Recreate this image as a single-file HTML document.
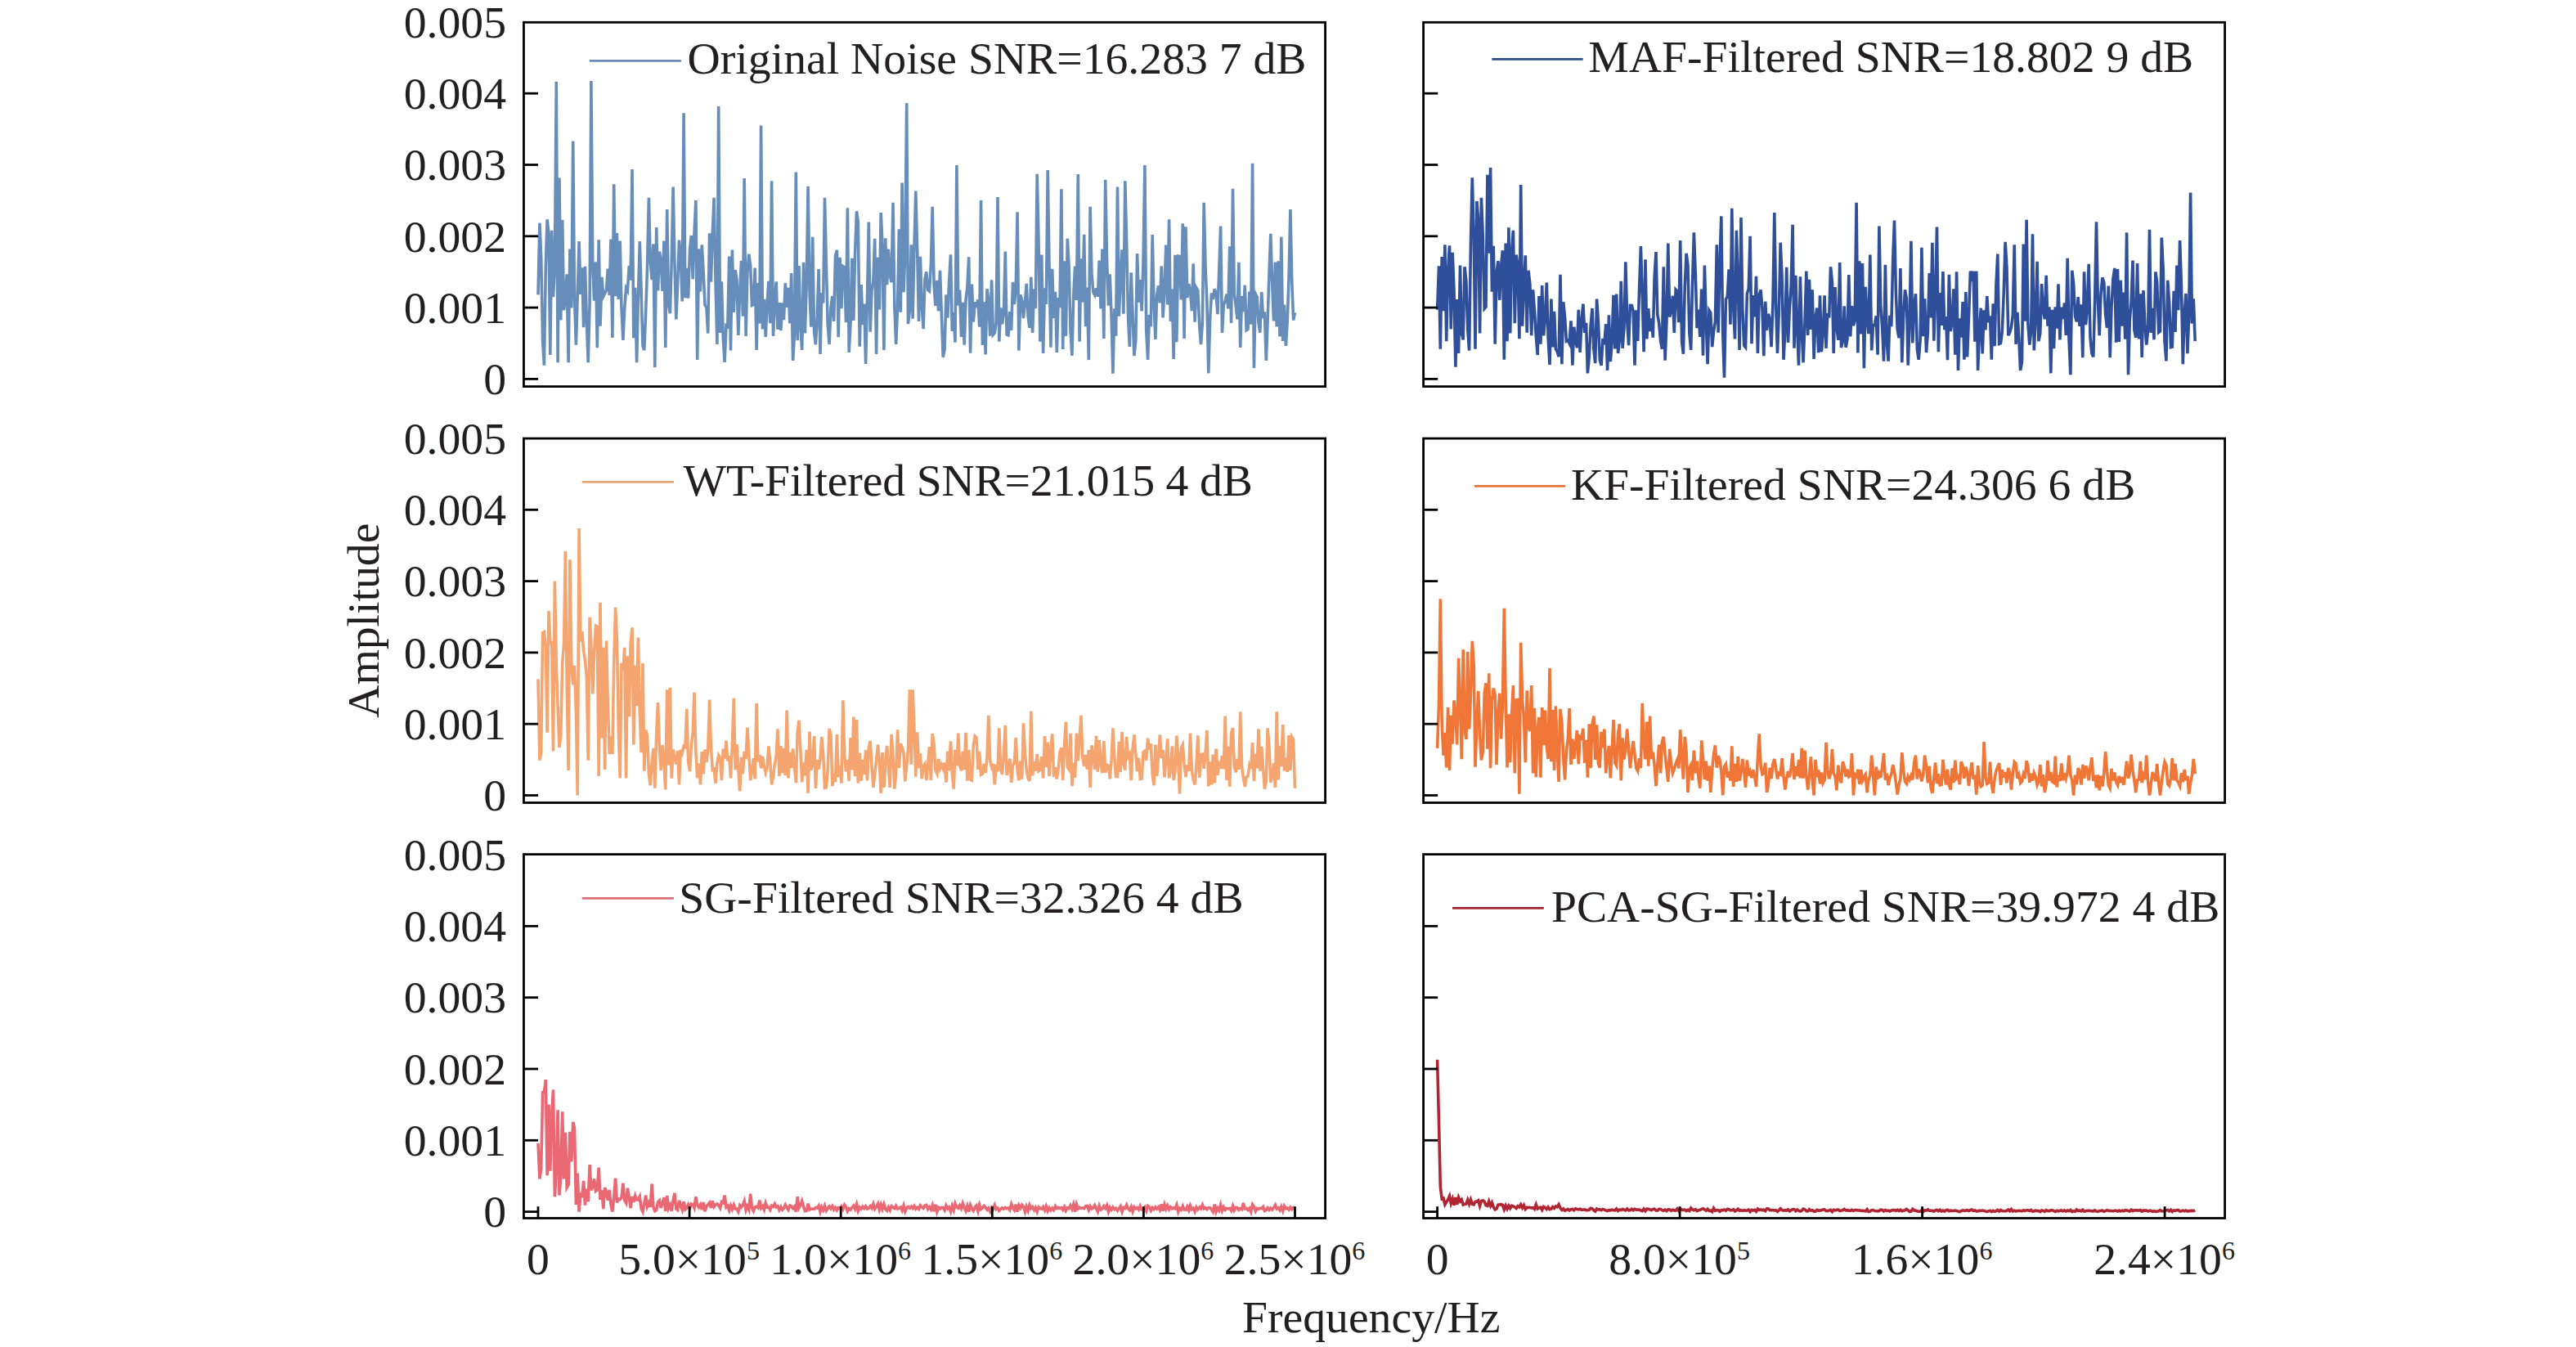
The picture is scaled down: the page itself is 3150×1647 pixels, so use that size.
<!DOCTYPE html><html><head><meta charset="utf-8"><style>html,body{margin:0;padding:0;background:#fff;}svg{display:block}text{font-family:"Liberation Serif",serif;fill:#231F20}</style></head><body>
<svg width="3150" height="1647" viewBox="0 0 3150 1647">
<rect width="3150" height="1647" fill="#fff"/>
<defs>
<clipPath id="c00"><rect x="640.5" y="27.3" width="980.1" height="445.3"/></clipPath>
<clipPath id="c01"><rect x="1740.6" y="27.3" width="980.0" height="445.3"/></clipPath>
<clipPath id="c10"><rect x="640.5" y="536.1" width="980.1" height="445.4"/></clipPath>
<clipPath id="c11"><rect x="1740.6" y="536.1" width="980.0" height="445.4"/></clipPath>
<clipPath id="c20"><rect x="640.5" y="1044.6" width="980.1" height="444.9"/></clipPath>
<clipPath id="c21"><rect x="1740.6" y="1044.6" width="980.0" height="444.9"/></clipPath>
</defs>
<polyline clip-path="url(#c00)" fill="none" stroke="#678EBA" stroke-width="3.6" stroke-linejoin="miter" stroke-miterlimit="4" points="658.0,360.4 659.9,272.7 661.7,314.5 663.6,415.5 665.4,446.6 667.3,326.5 669.1,268.2 671.0,285.2 672.8,434.1 674.7,281.7 676.5,363.2 678.4,326.5 680.3,99.7 682.1,443.3 684.0,217.6 685.8,391.4 687.7,269.0 689.5,379.3 691.4,365.2 693.2,335.4 695.1,443.3 696.9,304.5 698.8,376.4 700.7,172.4 702.5,361.9 704.4,421.8 706.2,362.3 708.1,295.1 709.9,360.0 711.8,327.2 713.6,400.3 715.5,325.7 717.4,392.6 719.2,443.3 721.1,370.5 722.9,99.0 724.8,326.7 726.6,367.7 728.5,320.4 730.3,425.2 732.2,293.3 734.0,398.8 735.9,338.9 737.8,362.3 739.6,358.6 741.5,354.7 743.3,328.5 745.2,360.9 747.0,292.6 748.9,412.9 750.7,225.2 752.6,362.2 754.4,285.0 756.3,366.0 758.2,294.5 760.0,376.5 761.9,416.0 763.7,377.6 765.6,352.5 767.4,355.5 769.3,324.8 771.1,342.6 773.0,207.1 774.8,413.3 776.7,351.9 778.6,443.3 780.4,364.3 782.3,295.1 784.1,356.2 786.0,423.0 787.8,428.1 789.7,380.9 791.5,328.1 793.4,241.8 795.2,319.0 797.1,342.0 799.0,298.4 800.8,449.3 802.7,278.0 804.5,355.5 806.4,307.5 808.2,318.5 810.1,356.0 811.9,294.5 813.8,425.0 815.7,256.0 817.5,371.4 819.4,383.1 821.2,321.3 823.1,228.5 824.9,318.5 826.8,390.4 828.6,348.0 830.5,293.6 832.3,314.4 834.2,368.5 836.1,138.3 837.9,364.3 839.8,327.8 841.6,364.7 843.5,305.8 845.3,288.0 847.2,341.2 849.0,285.3 850.9,245.1 852.7,440.0 854.6,304.3 856.5,356.5 858.3,299.4 860.2,333.8 862.0,372.8 863.9,376.0 865.7,407.7 867.6,285.4 869.4,344.8 871.3,285.2 873.1,241.8 875.0,342.9 876.9,421.0 878.7,130.1 880.6,406.9 882.4,344.2 884.3,413.8 886.1,443.0 888.0,398.0 889.8,399.1 891.7,313.5 893.5,428.5 895.4,305.5 897.3,381.9 899.1,330.1 901.0,342.0 902.8,409.9 904.7,355.8 906.5,318.9 908.4,386.6 910.2,218.0 912.1,411.0 913.9,334.0 915.8,310.7 917.7,325.6 919.5,373.4 921.4,372.2 923.2,327.6 925.1,428.0 926.9,346.1 928.8,395.6 930.6,153.5 932.5,402.4 934.4,365.9 936.2,412.0 938.1,371.4 939.9,343.9 941.8,395.1 943.6,221.3 945.5,411.0 947.3,371.3 949.2,344.4 951.0,402.8 952.9,370.0 954.8,404.1 956.6,370.3 958.5,391.2 960.3,346.2 962.2,375.9 964.0,351.8 965.9,395.4 967.7,334.1 969.6,441.0 971.4,409.6 973.3,210.4 975.2,416.2 977.0,325.1 978.9,399.7 980.7,428.0 982.6,320.9 984.4,407.5 986.3,345.4 988.1,227.9 990.0,356.6 991.8,399.8 993.7,289.9 995.6,406.0 997.4,421.4 999.3,387.4 1001.1,329.1 1003.0,433.0 1004.8,358.0 1006.7,370.5 1008.5,241.8 1010.4,324.1 1012.2,396.6 1014.1,421.0 1016.0,376.1 1017.8,362.1 1019.7,392.9 1021.5,313.1 1023.4,305.9 1025.2,412.1 1027.1,314.9 1028.9,377.3 1030.8,325.5 1032.7,326.8 1034.5,394.1 1036.4,254.3 1038.2,431.0 1040.1,393.0 1041.9,315.9 1043.8,391.9 1045.6,309.3 1047.5,258.3 1049.3,271.6 1051.2,423.7 1053.1,348.0 1054.9,397.0 1056.8,371.5 1058.6,445.0 1060.5,365.1 1062.3,271.5 1064.2,405.7 1066.0,355.9 1067.9,342.5 1069.7,291.7 1071.6,433.0 1073.5,314.7 1075.3,378.5 1077.2,260.0 1079.0,300.1 1080.9,428.0 1082.7,291.2 1084.6,348.2 1086.4,304.6 1088.3,336.7 1090.1,345.2 1092.0,247.7 1093.9,375.6 1095.7,421.0 1097.6,375.6 1099.4,280.2 1101.3,381.8 1103.1,223.6 1105.0,357.1 1106.8,311.5 1108.7,126.1 1110.5,396.0 1112.4,378.9 1114.3,299.2 1116.1,389.8 1118.0,300.4 1119.8,233.5 1121.7,308.0 1123.5,393.0 1125.4,313.8 1127.2,373.2 1129.1,402.1 1131.0,340.6 1132.8,332.4 1134.7,354.6 1136.5,356.1 1138.4,322.8 1140.2,252.7 1142.1,347.9 1143.9,373.8 1145.8,342.9 1147.6,380.3 1149.5,330.9 1151.4,385.7 1153.2,436.8 1155.1,427.3 1156.9,360.4 1158.8,388.7 1160.6,345.6 1162.5,311.3 1164.3,404.9 1166.2,382.0 1168.0,418.6 1169.9,202.1 1171.8,373.4 1173.6,354.5 1175.5,411.9 1177.3,369.7 1179.2,421.8 1181.0,367.1 1182.9,350.5 1184.7,314.3 1186.6,431.8 1188.4,347.6 1190.3,393.6 1192.2,369.2 1194.0,375.9 1195.9,366.4 1197.7,399.6 1199.6,245.1 1201.4,422.0 1203.3,369.2 1205.1,433.5 1207.0,353.3 1208.8,366.7 1210.7,410.8 1212.6,342.3 1214.4,409.2 1216.3,407.0 1218.1,394.3 1220.0,241.1 1221.8,417.6 1223.7,376.4 1225.5,396.2 1227.4,383.6 1229.3,307.6 1231.1,409.0 1233.0,409.8 1234.8,381.1 1236.7,404.0 1238.5,345.0 1240.4,372.0 1242.2,352.2 1244.1,259.3 1245.9,428.7 1247.8,360.4 1249.7,367.8 1251.5,389.0 1253.4,370.5 1255.2,346.9 1257.1,386.1 1258.9,400.7 1260.8,338.8 1262.6,407.0 1264.5,353.4 1266.3,377.0 1268.2,212.7 1270.1,296.9 1271.9,417.6 1273.8,311.5 1275.6,432.0 1277.5,352.2 1279.3,371.9 1281.2,208.1 1283.0,322.1 1284.9,424.6 1286.7,328.9 1288.6,388.9 1290.5,356.8 1292.3,431.0 1294.2,364.0 1296.0,376.0 1297.9,231.2 1299.7,427.0 1301.6,319.2 1303.4,410.9 1305.3,291.7 1307.1,325.1 1309.0,403.1 1310.9,435.0 1312.7,362.9 1314.6,325.5 1316.4,366.8 1318.3,213.1 1320.1,417.8 1322.0,316.3 1323.8,369.7 1325.7,286.7 1327.6,399.2 1329.4,351.5 1331.3,440.1 1333.1,252.7 1335.0,334.9 1336.8,357.3 1338.7,360.8 1340.5,352.3 1342.4,362.7 1344.2,318.5 1346.1,377.5 1348.0,304.5 1349.8,414.0 1351.7,219.7 1353.5,315.8 1355.4,373.7 1357.2,335.3 1359.1,386.6 1360.9,456.6 1362.8,377.3 1364.6,410.8 1366.5,228.6 1368.4,386.8 1370.2,340.2 1372.1,305.3 1373.9,383.8 1375.8,221.3 1377.6,293.3 1379.5,386.6 1381.3,424.0 1383.2,333.2 1385.0,382.4 1386.9,435.0 1388.8,417.3 1390.6,310.0 1392.5,369.7 1394.3,342.2 1396.2,380.3 1398.0,320.4 1399.9,202.1 1401.7,403.6 1403.6,440.0 1405.4,384.8 1407.3,399.3 1409.2,287.1 1411.0,369.5 1412.9,415.0 1414.7,360.7 1416.6,349.3 1418.4,370.3 1420.3,325.4 1422.1,388.5 1424.0,353.0 1425.8,299.5 1427.7,372.4 1429.6,268.2 1431.4,393.0 1433.3,353.5 1435.1,439.0 1437.0,311.7 1438.8,418.2 1440.7,313.1 1442.5,313.4 1444.4,366.4 1446.3,273.2 1448.1,414.0 1450.0,277.3 1451.8,364.0 1453.7,347.2 1455.5,355.8 1457.4,380.0 1459.2,322.4 1461.1,393.7 1462.9,351.9 1464.8,355.2 1466.7,397.9 1468.5,421.0 1470.4,394.1 1472.2,247.8 1474.1,327.7 1475.9,369.2 1477.8,456.4 1479.6,391.9 1481.5,358.4 1483.3,366.1 1485.2,353.3 1487.1,358.5 1488.9,384.1 1490.8,329.5 1492.6,276.5 1494.5,407.0 1496.3,372.7 1498.2,367.8 1500.0,359.7 1501.9,377.4 1503.7,301.3 1505.6,394.9 1507.5,230.9 1509.3,359.8 1511.2,373.6 1513.0,390.2 1514.9,320.9 1516.7,425.0 1518.6,362.0 1520.4,381.0 1522.3,348.7 1524.1,403.7 1526.0,402.5 1527.9,356.6 1529.7,396.6 1531.6,199.8 1533.4,450.0 1535.3,359.3 1537.1,362.7 1539.0,394.5 1540.8,406.7 1542.7,357.0 1544.6,388.9 1546.4,381.3 1548.3,441.0 1550.1,392.8 1552.0,334.1 1553.8,285.8 1555.7,347.6 1557.5,392.5 1559.4,320.5 1561.2,399.5 1563.1,319.3 1565.0,411.5 1566.8,289.7 1568.7,417.0 1570.5,372.5 1572.4,422.9 1574.2,393.7 1576.1,337.7 1577.9,256.0 1579.8,345.3 1581.6,391.7 1583.5,382.2"/>
<polyline clip-path="url(#c01)" fill="none" stroke="#2F4F9B" stroke-width="3.6" stroke-linejoin="miter" stroke-miterlimit="4" points="1757.6,378.7 1759.5,325.4 1761.3,426.7 1763.2,314.1 1765.0,380.1 1766.9,299.3 1768.7,417.1 1770.6,330.7 1772.5,300.4 1774.3,402.4 1776.2,308.9 1778.0,355.3 1779.9,448.6 1781.7,366.0 1783.6,432.0 1785.5,324.6 1787.3,407.7 1789.2,415.4 1791.0,326.3 1792.9,343.8 1794.7,402.1 1796.6,428.5 1798.5,294.9 1800.3,217.2 1802.2,291.0 1804.0,426.7 1805.9,246.0 1807.7,268.8 1809.6,407.5 1811.4,241.7 1813.3,288.6 1815.2,377.3 1817.0,375.2 1818.9,213.7 1820.7,309.8 1822.6,205.0 1824.4,356.7 1826.3,300.7 1828.2,420.6 1830.0,334.2 1831.9,319.1 1833.7,366.9 1835.6,324.6 1837.4,306.2 1839.3,439.8 1841.2,297.5 1843.0,417.2 1844.9,278.3 1846.7,407.5 1848.6,306.5 1850.4,281.8 1852.3,395.3 1854.2,311.5 1856.0,326.3 1857.9,414.3 1859.7,225.9 1861.6,398.8 1863.4,349.2 1865.3,312.4 1867.2,406.7 1869.0,330.7 1870.9,347.6 1872.7,410.2 1874.6,354.3 1876.4,379.4 1878.3,410.8 1880.2,434.2 1882.0,362.1 1883.9,420.6 1885.7,349.1 1887.6,410.4 1889.4,390.5 1891.3,345.5 1893.1,412.8 1895.0,445.9 1896.9,365.6 1898.7,424.5 1900.6,380.7 1902.4,426.8 1904.3,430.2 1906.1,436.3 1908.0,335.9 1909.9,445.1 1911.7,369.3 1913.6,388.3 1915.4,417.2 1917.3,416.2 1919.1,419.8 1921.0,392.4 1922.9,446.8 1924.7,399.8 1926.6,416.7 1928.4,425.1 1930.3,378.7 1932.1,431.0 1934.0,392.1 1935.9,371.7 1937.7,406.9 1939.6,394.9 1941.4,456.4 1943.3,436.4 1945.1,398.6 1947.0,377.0 1948.9,426.7 1950.7,444.1 1952.6,365.6 1954.4,393.2 1956.3,440.1 1958.1,446.8 1960.0,414.0 1961.9,421.0 1963.7,396.2 1965.6,452.9 1967.4,385.4 1969.3,442.0 1971.1,418.5 1973.0,360.8 1974.9,426.5 1976.7,359.5 1978.6,432.0 1980.4,415.3 1982.3,343.8 1984.1,425.9 1986.0,400.7 1987.8,320.2 1989.7,392.1 1991.6,422.2 1993.4,373.4 1995.3,373.5 1997.1,380.1 1999.0,446.8 2000.8,379.4 2002.7,417.0 2004.6,352.0 2006.4,301.0 2008.3,362.4 2010.1,430.2 2012.0,317.4 2013.8,414.4 2015.7,377.0 2017.6,405.0 2019.4,389.3 2021.3,412.8 2023.1,339.4 2025.0,308.0 2026.8,384.6 2028.7,395.3 2030.6,417.1 2032.4,426.7 2034.3,326.3 2036.1,440.7 2038.0,391.6 2039.8,297.5 2041.7,387.6 2043.6,378.6 2045.4,361.8 2047.3,406.9 2049.1,354.2 2051.0,356.5 2052.8,394.1 2054.7,294.0 2056.6,417.7 2058.4,432.8 2060.3,348.5 2062.1,309.8 2064.0,324.6 2065.8,406.7 2067.7,427.9 2069.5,348.7 2071.4,284.4 2073.3,336.1 2075.1,401.2 2077.0,378.5 2078.8,411.9 2080.7,353.6 2082.5,434.8 2084.4,324.6 2086.3,393.7 2088.1,445.1 2090.0,379.6 2091.8,382.6 2093.7,424.1 2095.5,405.2 2097.4,393.6 2099.3,299.3 2101.1,406.8 2103.0,322.2 2104.8,264.4 2106.7,406.9 2108.5,461.7 2110.4,365.9 2112.3,362.8 2114.1,329.4 2116.0,396.8 2117.8,254.8 2119.7,376.7 2121.5,414.5 2123.4,281.8 2125.3,348.5 2127.1,427.9 2129.0,266.1 2130.8,376.5 2132.7,422.4 2134.5,424.7 2136.4,359.0 2138.3,352.7 2140.1,288.8 2142.0,420.3 2143.8,361.0 2145.7,387.4 2147.5,337.8 2149.4,432.0 2151.2,361.2 2153.1,354.3 2155.0,378.7 2156.8,435.3 2158.7,368.7 2160.5,403.9 2162.4,383.8 2164.2,390.9 2166.1,424.1 2168.0,367.8 2169.8,260.0 2171.7,376.3 2173.5,431.9 2175.4,378.6 2177.2,296.7 2179.1,339.6 2181.0,439.8 2182.8,405.4 2184.7,326.7 2186.5,418.8 2188.4,376.6 2190.2,349.2 2192.1,274.8 2194.0,425.8 2195.8,336.8 2197.7,402.8 2199.5,446.8 2201.4,338.4 2203.2,406.1 2205.1,443.3 2207.0,395.0 2208.8,331.6 2210.7,409.9 2212.5,341.7 2214.4,403.0 2216.2,354.3 2218.1,439.0 2220.0,389.2 2221.8,376.5 2223.7,431.1 2225.5,361.3 2227.4,430.2 2229.2,407.8 2231.1,361.2 2233.0,425.9 2234.8,383.1 2236.7,388.5 2238.5,326.3 2240.4,344.5 2242.2,431.9 2244.1,351.0 2245.9,400.3 2247.8,415.7 2249.7,321.0 2251.5,425.0 2253.4,417.8 2255.2,374.3 2257.1,424.8 2258.9,415.4 2260.8,336.0 2262.7,411.4 2264.5,374.0 2266.4,398.2 2268.2,391.1 2270.1,247.8 2271.9,431.5 2273.8,319.2 2275.7,408.4 2277.5,322.0 2279.4,450.3 2281.2,350.9 2283.1,389.6 2284.9,408.2 2286.8,311.5 2288.7,428.5 2290.5,397.4 2292.4,397.6 2294.2,386.3 2296.1,433.7 2297.9,276.6 2299.8,373.9 2301.7,400.7 2303.5,441.6 2305.4,323.7 2307.2,419.4 2309.1,441.6 2310.9,385.9 2312.8,399.2 2314.7,318.4 2316.5,269.6 2318.4,358.8 2320.2,402.6 2322.1,413.3 2323.9,328.0 2325.8,443.3 2327.6,387.7 2329.5,354.3 2331.4,365.5 2333.2,446.8 2335.1,395.2 2336.9,294.9 2338.8,419.4 2340.6,375.3 2342.5,359.3 2344.4,427.9 2346.2,439.8 2348.1,416.1 2349.9,302.8 2351.8,411.3 2353.6,365.3 2355.5,431.0 2357.4,406.1 2359.2,334.1 2361.1,388.5 2362.9,296.7 2364.8,416.6 2366.6,366.1 2368.5,277.5 2370.4,430.2 2372.2,358.1 2374.1,398.0 2375.9,332.1 2377.8,403.1 2379.6,387.0 2381.5,440.1 2383.4,335.9 2385.2,405.0 2387.1,394.4 2388.9,353.4 2390.8,433.8 2392.6,332.4 2394.5,452.9 2396.4,389.2 2398.2,412.6 2400.1,369.1 2401.9,439.8 2403.8,357.0 2405.6,436.5 2407.5,386.6 2409.4,331.6 2411.2,338.2 2413.1,331.7 2414.9,417.8 2416.8,331.6 2418.6,452.9 2420.5,404.7 2422.3,376.7 2424.2,432.4 2426.1,379.2 2427.9,403.5 2429.8,362.1 2431.6,394.1 2433.5,386.4 2435.3,439.8 2437.2,371.3 2439.1,423.3 2440.9,348.2 2442.8,310.6 2444.6,420.5 2446.5,419.8 2448.3,405.5 2450.2,359.5 2452.1,295.8 2453.9,325.7 2455.8,410.3 2457.6,406.7 2459.5,400.0 2461.3,385.1 2463.2,299.3 2465.1,420.9 2466.9,381.8 2468.8,413.9 2470.6,452.9 2472.5,442.3 2474.3,298.4 2476.2,392.7 2478.1,268.7 2479.9,396.5 2481.8,421.5 2483.6,406.2 2485.5,286.2 2487.3,428.5 2489.2,390.1 2491.1,319.9 2492.9,417.2 2494.8,407.5 2496.6,347.0 2498.5,378.7 2500.3,390.1 2502.2,336.8 2504.0,398.8 2505.9,375.4 2507.8,456.4 2509.6,378.8 2511.5,426.2 2513.3,375.2 2515.2,401.6 2517.0,347.4 2518.9,415.4 2520.8,375.6 2522.6,390.0 2524.5,370.4 2526.3,410.0 2528.2,315.9 2530.0,414.9 2531.9,458.2 2533.8,330.8 2535.6,346.4 2537.5,386.2 2539.3,393.4 2541.2,363.2 2543.0,398.8 2544.9,372.3 2546.8,437.2 2548.6,332.4 2550.5,397.1 2552.3,376.8 2554.2,322.8 2556.0,412.7 2557.9,432.0 2559.8,436.4 2561.6,368.7 2563.5,271.3 2565.3,366.2 2567.2,410.1 2569.0,359.3 2570.9,339.4 2572.8,345.6 2574.6,383.9 2576.5,400.8 2578.3,349.5 2580.2,437.2 2582.0,375.6 2583.9,341.2 2585.8,327.9 2587.6,418.6 2589.5,329.1 2591.3,418.0 2593.2,342.9 2595.0,398.6 2596.9,357.6 2598.7,414.6 2600.6,284.4 2602.5,458.2 2604.3,391.6 2606.2,367.6 2608.0,318.5 2609.9,403.6 2611.7,412.8 2613.6,322.0 2615.5,414.4 2617.3,359.2 2619.2,437.0 2621.0,355.1 2622.9,396.9 2624.7,421.5 2626.6,404.2 2628.5,280.9 2630.3,407.0 2632.2,376.9 2634.0,415.3 2635.9,332.4 2637.7,345.5 2639.6,406.4 2641.5,405.0 2643.3,290.5 2645.2,329.5 2647.0,417.1 2648.9,441.4 2650.7,342.9 2652.6,369.1 2654.5,424.6 2656.3,424.1 2658.2,355.9 2660.0,405.9 2661.9,324.6 2663.7,379.1 2665.6,294.0 2667.5,351.3 2669.3,445.1 2671.2,383.7 2673.0,359.0 2674.9,432.2 2676.7,386.9 2678.6,235.5 2680.4,395.6 2682.3,365.2 2684.2,417.1"/>
<polyline clip-path="url(#c10)" fill="none" stroke="#F5A56F" stroke-width="3.6" stroke-linejoin="miter" stroke-miterlimit="4" points="658.0,830.2 659.9,929.7 661.7,920.1 663.6,773.5 665.4,772.6 667.3,791.8 669.1,895.7 671.0,747.1 672.8,785.7 674.7,785.7 676.5,918.4 678.4,710.6 680.3,814.1 682.1,863.5 684.0,914.0 685.8,899.0 687.7,810.4 689.5,788.3 691.4,673.9 693.2,835.1 695.1,941.9 696.9,684.4 698.8,812.8 700.7,837.3 702.5,813.8 704.4,869.2 706.2,972.5 708.1,646.0 709.9,784.4 711.8,772.1 713.6,795.3 715.5,808.1 717.4,828.1 719.2,929.7 721.1,754.7 722.9,789.2 724.8,848.5 726.6,798.0 728.5,765.2 730.3,766.1 732.2,948.9 734.0,736.8 735.9,902.4 737.8,791.8 739.6,941.1 741.5,783.4 743.3,859.5 745.2,922.0 747.0,900.0 748.9,921.9 750.7,810.9 752.6,742.9 754.4,781.2 756.3,891.4 758.2,951.5 760.0,811.0 761.9,819.7 763.7,791.8 765.6,951.5 767.4,802.3 769.3,876.1 771.1,788.4 773.0,767.3 774.8,910.4 776.7,813.7 778.6,863.3 780.4,779.6 782.3,872.4 784.1,920.1 786.0,810.9 787.8,942.8 789.7,892.5 791.5,899.2 793.4,945.9 795.2,960.3 797.1,932.7 799.0,914.9 800.8,963.8 802.7,897.6 804.5,859.0 806.4,914.4 808.2,941.9 810.1,910.9 811.9,932.5 813.8,965.5 815.7,843.3 817.5,935.8 819.4,840.7 821.2,951.7 823.1,916.6 824.9,927.4 826.8,934.3 828.6,917.9 830.5,959.4 832.3,916.9 834.2,921.0 836.1,912.3 837.9,913.4 839.8,866.9 841.6,931.5 843.5,943.1 845.3,913.3 847.2,895.7 849.0,846.8 850.9,920.5 852.7,951.3 854.6,933.6 856.5,959.4 858.3,919.1 860.2,946.4 862.0,916.5 863.9,932.1 865.7,917.0 867.6,855.5 869.4,912.6 871.3,941.4 873.1,940.4 875.0,957.7 876.9,933.2 878.7,923.4 880.6,926.7 882.4,954.2 884.3,915.6 886.1,927.4 888.0,905.7 889.8,930.4 891.7,924.2 893.5,951.5 895.4,911.0 897.3,853.8 899.1,941.3 901.0,910.0 902.8,939.5 904.7,967.3 906.5,925.9 908.4,946.4 910.2,918.9 912.1,928.2 913.9,889.6 915.8,922.0 917.7,954.2 919.5,942.9 921.4,927.1 923.2,952.4 925.1,859.9 926.9,931.4 928.8,923.0 930.6,939.4 932.5,925.0 934.4,937.4 936.2,944.8 938.1,938.1 939.9,912.4 941.8,932.5 943.6,959.4 945.5,949.8 947.3,934.4 949.2,924.9 951.0,891.3 952.9,948.9 954.8,912.2 956.6,945.1 958.5,914.8 960.3,948.1 962.2,868.6 964.0,951.5 965.9,919.8 967.7,939.2 969.6,915.4 971.4,936.0 973.3,957.1 975.2,895.2 977.0,880.8 978.9,918.1 980.7,956.3 982.6,932.5 984.4,948.4 986.3,916.7 988.1,969.9 990.0,894.5 991.8,941.4 993.7,934.9 995.6,900.0 997.4,963.8 999.3,929.1 1001.1,940.5 1003.0,928.2 1004.8,900.9 1006.7,922.7 1008.5,963.3 1010.4,962.9 1012.2,941.2 1014.1,891.0 1016.0,898.3 1017.8,961.2 1019.7,945.4 1021.5,956.2 1023.4,898.1 1025.2,950.1 1027.1,936.0 1028.9,957.7 1030.8,856.4 1032.7,924.5 1034.5,943.3 1036.4,929.4 1038.2,954.8 1040.1,902.0 1041.9,941.4 1043.8,876.5 1045.6,949.1 1047.5,880.0 1049.3,957.7 1051.2,920.8 1053.1,954.6 1054.9,929.0 1056.8,946.8 1058.6,917.1 1060.5,954.4 1062.3,913.9 1064.2,906.2 1066.0,936.5 1067.9,962.9 1069.7,946.6 1071.6,929.7 1073.5,910.5 1075.3,930.1 1077.2,969.9 1079.0,920.1 1080.9,962.9 1082.7,935.5 1084.6,912.0 1086.4,937.6 1088.3,962.9 1090.1,897.8 1092.0,925.2 1093.9,964.6 1095.7,942.7 1097.6,892.3 1099.4,938.8 1101.3,909.2 1103.1,914.0 1105.0,920.8 1106.8,955.4 1108.7,936.6 1110.5,916.4 1112.4,843.3 1114.3,934.7 1116.1,843.3 1118.0,892.2 1119.8,949.8 1121.7,895.3 1123.5,939.3 1125.4,921.4 1127.2,952.2 1129.1,937.2 1131.0,934.1 1132.8,954.0 1134.7,934.9 1136.5,913.1 1138.4,954.2 1140.2,897.0 1142.1,909.8 1143.9,941.4 1145.8,945.8 1147.6,928.0 1149.5,939.8 1151.4,934.8 1153.2,939.6 1155.1,932.7 1156.9,956.7 1158.8,918.6 1160.6,942.2 1162.5,906.3 1164.3,945.2 1166.2,964.6 1168.0,916.9 1169.9,936.4 1171.8,896.5 1173.6,935.5 1175.5,942.3 1177.3,918.9 1179.2,941.0 1181.0,895.7 1182.9,954.6 1184.7,917.0 1186.6,953.4 1188.4,954.2 1190.3,911.4 1192.2,900.0 1194.0,901.7 1195.9,940.8 1197.7,918.9 1199.6,947.2 1201.4,946.2 1203.3,934.0 1205.1,944.9 1207.0,925.9 1208.8,874.7 1210.7,930.8 1212.6,938.0 1214.4,934.0 1216.3,959.4 1218.1,934.6 1220.0,943.4 1221.8,890.4 1223.7,940.5 1225.5,946.9 1227.4,924.5 1229.3,886.9 1231.1,947.8 1233.0,940.5 1234.8,927.6 1236.7,956.8 1238.5,935.9 1240.4,932.1 1242.2,901.8 1244.1,942.7 1245.9,954.2 1247.8,930.6 1249.7,952.6 1251.5,884.3 1253.4,920.8 1255.2,941.4 1257.1,951.3 1258.9,955.0 1260.8,869.5 1262.6,948.2 1264.5,931.1 1266.3,942.6 1268.2,922.2 1270.1,942.8 1271.9,941.5 1273.8,925.3 1275.6,951.5 1277.5,900.0 1279.3,938.1 1281.2,907.6 1283.0,949.0 1284.9,917.5 1286.7,897.4 1288.6,949.8 1290.5,938.3 1292.3,952.4 1294.2,939.6 1296.0,919.3 1297.9,914.4 1299.7,954.2 1301.6,910.5 1303.4,882.6 1305.3,938.0 1307.1,940.6 1309.0,896.9 1310.9,961.2 1312.7,932.8 1314.6,950.7 1316.4,896.6 1318.3,930.4 1320.1,902.2 1322.0,874.7 1323.8,926.0 1325.7,936.9 1327.6,923.1 1329.4,940.6 1331.3,917.0 1333.1,962.9 1335.0,911.3 1336.8,922.2 1338.7,940.9 1340.5,899.8 1342.4,943.6 1344.2,905.1 1346.1,935.2 1348.0,945.1 1349.8,906.2 1351.7,944.7 1353.5,935.3 1355.4,936.1 1357.2,952.4 1359.1,929.2 1360.9,890.4 1362.8,927.0 1364.6,949.5 1366.5,949.6 1368.4,906.8 1370.2,943.9 1372.1,894.8 1373.9,933.2 1375.8,941.7 1377.6,901.0 1379.5,925.1 1381.3,922.0 1383.2,954.2 1385.0,916.4 1386.9,898.4 1388.8,921.9 1390.6,943.2 1392.5,926.8 1394.3,952.5 1396.2,952.1 1398.0,920.0 1399.9,918.4 1401.7,929.6 1403.6,902.7 1405.4,916.5 1407.3,909.3 1409.2,946.1 1411.0,960.3 1412.9,910.6 1414.7,948.9 1416.6,924.7 1418.4,898.3 1420.3,927.0 1422.1,916.8 1424.0,950.2 1425.8,927.8 1427.7,903.4 1429.6,951.5 1431.4,942.4 1433.3,912.3 1435.1,954.0 1437.0,943.3 1438.8,899.5 1440.7,925.6 1442.5,970.8 1444.4,914.2 1446.3,910.5 1448.1,935.3 1450.0,950.1 1451.8,935.4 1453.7,942.7 1455.5,896.5 1457.4,942.2 1459.2,953.5 1461.1,959.4 1462.9,937.1 1464.8,899.2 1466.7,950.6 1468.5,922.6 1470.4,922.2 1472.2,939.9 1474.1,921.1 1475.9,893.1 1477.8,961.5 1479.6,931.4 1481.5,959.4 1483.3,922.5 1485.2,957.5 1487.1,915.5 1488.9,947.7 1490.8,930.6 1492.6,939.8 1494.5,924.0 1496.3,940.3 1498.2,875.6 1500.0,954.0 1501.9,912.5 1503.7,962.0 1505.6,896.6 1507.5,890.4 1509.3,936.9 1511.2,944.2 1513.0,927.9 1514.9,940.9 1516.7,870.4 1518.6,937.7 1520.4,951.1 1522.3,962.0 1524.1,950.2 1526.0,949.0 1527.9,935.6 1529.7,939.9 1531.6,908.0 1533.4,955.0 1535.3,921.8 1537.1,939.3 1539.0,891.3 1540.8,942.8 1542.7,913.0 1544.6,939.6 1546.4,964.6 1548.3,955.3 1550.1,890.4 1552.0,913.0 1553.8,956.8 1555.7,949.7 1557.5,933.0 1559.4,962.9 1561.2,870.4 1563.1,953.4 1565.0,911.8 1566.8,937.1 1568.7,886.1 1570.5,942.4 1572.4,926.7 1574.2,943.8 1576.1,899.2 1577.9,942.2 1579.8,901.2 1581.6,904.4 1583.5,963.8"/>
<polyline clip-path="url(#c11)" fill="none" stroke="#EF7637" stroke-width="3.6" stroke-linejoin="miter" stroke-miterlimit="4" points="1757.6,914.9 1759.5,860.0 1761.3,732.4 1763.2,884.9 1765.0,923.6 1766.9,895.8 1768.7,938.5 1770.6,865.1 1772.5,941.9 1774.3,874.7 1776.2,909.6 1778.0,856.4 1779.9,874.7 1781.7,910.5 1783.6,804.9 1785.5,861.2 1787.3,928.2 1789.2,794.4 1791.0,891.3 1792.9,903.9 1794.7,797.0 1796.6,891.3 1798.5,849.3 1800.3,783.9 1802.2,812.7 1804.0,937.6 1805.9,884.5 1807.7,845.0 1809.6,896.5 1811.4,929.4 1813.3,919.2 1815.2,847.7 1817.0,835.2 1818.9,915.8 1820.7,823.2 1822.6,939.3 1824.4,856.3 1826.3,841.5 1828.2,849.4 1830.0,935.0 1831.9,873.1 1833.7,847.7 1835.6,903.4 1837.4,862.6 1839.3,743.8 1841.2,859.1 1843.0,938.5 1844.9,873.2 1846.7,932.3 1848.6,872.8 1850.4,838.1 1852.3,945.4 1854.2,856.0 1856.0,855.5 1857.9,970.8 1859.7,785.7 1861.6,855.9 1863.4,877.2 1865.3,932.3 1867.2,844.2 1869.0,888.4 1870.9,894.0 1872.7,838.1 1874.6,945.4 1876.4,865.7 1878.3,950.2 1880.2,891.0 1882.0,877.1 1883.9,950.7 1885.7,865.1 1887.6,911.2 1889.4,868.5 1891.3,912.5 1893.1,928.0 1895.0,817.1 1896.9,931.1 1898.7,868.1 1900.6,941.9 1902.4,863.4 1904.3,921.0 1906.1,955.9 1908.0,866.9 1909.9,884.6 1911.7,925.9 1913.6,953.3 1915.4,918.8 1917.3,903.6 1919.1,866.0 1921.0,935.0 1922.9,903.5 1924.7,928.0 1926.6,910.3 1928.4,893.0 1930.3,934.1 1932.1,900.9 1934.0,902.5 1935.9,890.8 1937.7,933.0 1939.6,904.7 1941.4,950.7 1943.3,885.2 1945.1,939.3 1947.0,886.4 1948.9,875.6 1950.7,928.9 1952.6,886.3 1954.4,933.2 1956.3,938.8 1958.1,894.8 1960.0,914.2 1961.9,891.5 1963.7,945.4 1965.6,925.5 1967.4,911.9 1969.3,951.5 1971.1,918.8 1973.0,880.0 1974.9,933.2 1976.7,936.2 1978.6,896.5 1980.4,885.4 1982.3,954.2 1984.1,902.4 1986.0,928.5 1987.8,914.6 1989.7,891.3 1991.6,916.9 1993.4,939.3 1995.3,921.2 1997.1,906.2 1999.0,922.6 2000.8,939.1 2002.7,942.8 2004.6,927.2 2006.4,939.2 2008.3,859.9 2010.1,909.9 2012.0,928.2 2013.8,882.6 2015.7,936.8 2017.6,875.6 2019.4,928.0 2021.3,919.7 2023.1,935.8 2025.0,961.2 2026.8,934.5 2028.7,910.5 2030.6,945.4 2032.4,907.0 2034.3,900.9 2036.1,922.4 2038.0,940.1 2039.8,955.9 2041.7,915.8 2043.6,935.1 2045.4,945.4 2047.3,940.3 2049.1,933.6 2051.0,928.9 2052.8,939.4 2054.7,892.2 2056.6,924.9 2058.4,952.7 2060.3,900.9 2062.1,919.0 2064.0,969.0 2065.8,939.1 2067.7,935.4 2069.5,954.2 2071.4,917.5 2073.3,945.4 2075.1,930.3 2077.0,951.4 2078.8,963.8 2080.7,905.3 2082.5,927.3 2084.4,953.1 2086.3,930.6 2088.1,954.7 2090.0,936.6 2091.8,969.0 2093.7,940.2 2095.5,923.1 2097.4,911.4 2099.3,938.7 2101.1,924.1 2103.0,929.1 2104.8,943.1 2106.7,972.5 2108.5,937.2 2110.4,934.2 2112.3,950.6 2114.1,943.5 2116.0,954.4 2117.8,912.3 2119.7,962.0 2121.5,933.9 2123.4,955.8 2125.3,925.2 2127.1,954.7 2129.0,944.9 2130.8,928.0 2132.7,943.0 2134.5,962.9 2136.4,929.4 2138.3,948.4 2140.1,943.5 2142.0,951.1 2143.8,941.4 2145.7,949.7 2147.5,962.0 2149.4,926.8 2151.2,897.4 2153.1,936.9 2155.0,946.7 2156.8,945.4 2158.7,932.7 2160.5,969.0 2162.4,958.8 2164.2,938.6 2166.1,952.1 2168.0,933.7 2169.8,928.0 2171.7,940.3 2173.5,952.6 2175.4,945.6 2177.2,946.9 2179.1,927.1 2181.0,949.0 2182.8,965.5 2184.7,952.4 2186.5,943.0 2188.4,950.3 2190.2,938.4 2192.1,921.0 2194.0,953.0 2195.8,937.1 2197.7,949.0 2199.5,928.8 2201.4,951.3 2203.2,914.9 2205.1,951.6 2207.0,917.5 2208.8,947.7 2210.7,965.5 2212.5,948.4 2214.4,925.4 2216.2,952.9 2218.1,972.5 2220.0,929.0 2221.8,950.2 2223.7,941.4 2225.5,958.4 2227.4,944.5 2229.2,957.4 2231.1,953.8 2233.0,907.9 2234.8,941.7 2236.7,952.2 2238.5,946.0 2240.4,915.8 2242.2,945.6 2244.1,949.1 2245.9,966.4 2247.8,935.7 2249.7,951.3 2251.5,957.3 2253.4,931.2 2255.2,937.7 2257.1,949.8 2258.9,940.7 2260.8,949.9 2262.7,948.4 2264.5,921.0 2266.4,972.5 2268.2,946.9 2270.1,949.1 2271.9,940.8 2273.8,958.7 2275.7,941.2 2277.5,954.3 2279.4,949.7 2281.2,946.9 2283.1,969.0 2284.9,953.8 2286.8,948.2 2288.7,923.6 2290.5,947.8 2292.4,972.5 2294.2,937.5 2296.1,952.5 2297.9,945.7 2299.8,950.8 2301.7,937.6 2303.5,921.0 2305.4,953.7 2307.2,945.8 2309.1,960.1 2310.9,951.4 2312.8,946.8 2314.7,935.1 2316.5,943.5 2318.4,957.0 2320.2,971.6 2322.1,959.2 2323.9,952.2 2325.8,920.1 2327.6,941.7 2329.5,955.5 2331.4,958.1 2333.2,949.4 2335.1,953.5 2336.9,948.3 2338.8,953.4 2340.6,932.6 2342.5,923.6 2344.4,952.6 2346.2,940.5 2348.1,946.4 2349.9,955.4 2351.8,946.5 2353.6,923.6 2355.5,936.5 2357.4,957.3 2359.2,936.9 2361.1,963.1 2362.9,969.9 2364.8,950.6 2366.6,932.5 2368.5,958.1 2370.4,946.3 2372.2,960.1 2374.1,959.6 2375.9,928.9 2377.8,948.6 2379.6,959.5 2381.5,940.8 2383.4,959.8 2385.2,965.5 2387.1,939.3 2388.9,957.0 2390.8,929.7 2392.6,951.4 2394.5,949.3 2396.4,959.2 2398.2,931.3 2400.1,937.1 2401.9,951.7 2403.8,937.7 2405.6,944.8 2407.5,960.8 2409.4,944.9 2411.2,932.3 2413.1,952.7 2414.9,947.7 2416.8,971.6 2418.6,936.1 2420.5,956.9 2422.3,961.7 2424.2,960.2 2426.1,907.0 2427.9,950.1 2429.8,958.4 2431.6,957.1 2433.5,931.7 2435.3,958.8 2437.2,969.9 2439.1,952.4 2440.9,942.5 2442.8,937.6 2444.6,933.1 2446.5,959.9 2448.3,941.2 2450.2,950.5 2452.1,944.0 2453.9,957.4 2455.8,938.9 2457.6,945.4 2459.5,965.5 2461.3,945.6 2463.2,931.6 2465.1,933.5 2466.9,951.9 2468.8,947.3 2470.6,957.4 2472.5,955.3 2474.3,946.6 2476.2,951.9 2478.1,930.1 2479.9,936.7 2481.8,956.8 2483.6,945.8 2485.5,954.5 2487.3,945.0 2489.2,949.8 2491.1,959.9 2492.9,955.7 2494.8,935.0 2496.6,961.5 2498.5,947.1 2500.3,969.0 2502.2,958.8 2504.0,929.9 2505.9,954.3 2507.8,944.1 2509.6,955.8 2511.5,957.0 2513.3,924.5 2515.2,962.3 2517.0,947.8 2518.9,955.0 2520.8,933.4 2522.6,954.4 2524.5,945.5 2526.3,951.8 2528.2,943.7 2530.0,923.6 2531.9,947.7 2533.8,954.5 2535.6,972.5 2537.5,947.6 2539.3,959.1 2541.2,939.1 2543.0,943.4 2544.9,959.5 2546.8,935.0 2548.6,951.8 2550.5,936.5 2552.3,941.0 2554.2,954.3 2556.0,938.5 2557.9,926.2 2559.8,954.9 2561.6,947.8 2563.5,963.3 2565.3,947.4 2567.2,966.4 2569.0,948.8 2570.9,961.5 2572.8,944.9 2574.6,919.2 2576.5,943.5 2578.3,960.2 2580.2,963.8 2582.0,939.8 2583.9,954.5 2585.8,944.4 2587.6,956.1 2589.5,959.9 2591.3,948.9 2593.2,957.0 2595.0,950.2 2596.9,959.8 2598.7,947.5 2600.6,930.6 2602.5,951.8 2604.3,944.6 2606.2,922.7 2608.0,942.2 2609.9,954.2 2611.7,969.0 2613.6,953.9 2615.5,953.2 2617.3,931.0 2619.2,957.1 2621.0,948.0 2622.9,953.0 2624.7,923.6 2626.6,955.8 2628.5,972.5 2630.3,958.6 2632.2,944.0 2634.0,949.4 2635.9,955.2 2637.7,933.9 2639.6,957.8 2641.5,972.5 2643.3,956.4 2645.2,942.3 2647.0,931.5 2648.9,935.3 2650.7,958.5 2652.6,960.8 2654.5,951.5 2656.3,927.1 2658.2,954.4 2660.0,933.9 2661.9,953.9 2663.7,956.7 2665.6,961.1 2667.5,945.2 2669.3,956.3 2671.2,940.9 2673.0,954.0 2674.9,948.8 2676.7,970.8 2678.6,957.2 2680.4,948.1 2682.3,928.0 2684.2,946.3"/>
<polyline clip-path="url(#c20)" fill="none" stroke="#E96874" stroke-width="3.6" stroke-linejoin="miter" stroke-miterlimit="4" points="658.0,1397.8 659.9,1441.4 661.7,1429.2 663.6,1335.8 665.4,1335.8 667.3,1320.1 669.1,1437.1 671.0,1350.6 672.8,1431.8 674.7,1363.3 676.5,1332.3 678.4,1463.3 680.3,1430.8 682.1,1357.4 684.0,1461.5 685.8,1436.8 687.7,1359.4 689.5,1441.4 691.4,1384.7 693.2,1451.9 695.1,1448.4 696.9,1383.8 698.8,1420.5 700.7,1371.9 702.5,1379.5 704.4,1472.9 706.2,1434.5 708.1,1481.6 709.9,1458.5 711.8,1464.1 713.6,1443.9 715.5,1473.7 717.4,1453.7 719.2,1469.2 721.1,1424.0 722.9,1455.4 724.8,1450.8 726.6,1441.4 728.5,1456.3 730.3,1454.9 732.2,1427.5 734.0,1466.8 735.9,1455.4 737.8,1478.1 739.6,1452.0 741.5,1457.2 743.3,1467.6 745.2,1455.1 747.0,1473.2 748.9,1481.6 750.7,1463.7 752.6,1440.6 754.4,1470.5 756.3,1465.9 758.2,1466.4 760.0,1464.0 761.9,1446.7 763.7,1467.6 765.6,1470.9 767.4,1452.8 769.3,1463.8 771.1,1477.2 773.0,1463.0 774.8,1469.7 776.7,1461.9 778.6,1466.8 780.4,1466.7 782.3,1462.9 784.1,1477.7 786.0,1481.6 787.8,1471.8 789.7,1461.5 791.5,1475.3 793.4,1470.8 795.2,1475.8 797.1,1447.6 799.0,1476.2 800.8,1480.7 802.7,1479.5 804.5,1469.8 806.4,1467.8 808.2,1477.0 810.1,1470.9 811.9,1464.1 813.8,1480.7 815.7,1462.0 817.5,1477.4 819.4,1473.3 821.2,1480.7 823.1,1468.2 824.9,1458.9 826.8,1478.1 828.6,1479.5 830.5,1467.8 832.3,1474.3 834.2,1479.2 836.1,1469.4 837.9,1478.8 839.8,1477.2 841.6,1472.9 843.5,1477.5 845.3,1472.1 847.2,1473.1 849.0,1477.0 850.9,1463.3 852.7,1473.4 854.6,1476.2 856.5,1472.9 858.3,1479.0 860.2,1470.1 862.0,1481.2 863.9,1475.2 865.7,1472.9 867.6,1470.6 869.4,1476.9 871.3,1468.5 873.1,1475.5 875.0,1473.0 876.9,1472.0 878.7,1473.9 880.6,1477.2 882.4,1469.6 884.3,1470.7 886.1,1461.5 888.0,1476.1 889.8,1474.5 891.7,1479.9 893.5,1474.1 895.4,1478.6 897.3,1473.2 899.1,1477.9 901.0,1478.1 902.8,1481.6 904.7,1473.9 906.5,1476.0 908.4,1473.1 910.2,1468.5 912.1,1479.5 913.9,1474.8 915.8,1479.1 917.7,1459.8 919.5,1476.9 921.4,1480.7 923.2,1475.9 925.1,1475.2 926.9,1476.8 928.8,1467.5 930.6,1477.1 932.5,1474.7 934.4,1479.0 936.2,1471.0 938.1,1476.1 939.9,1476.0 941.8,1479.2 943.6,1474.2 945.5,1475.4 947.3,1472.0 949.2,1475.9 951.0,1474.9 952.9,1479.3 954.8,1475.7 956.6,1479.2 958.5,1477.2 960.3,1473.1 962.2,1476.7 964.0,1479.2 965.9,1474.0 967.7,1475.0 969.6,1477.6 971.4,1475.4 973.3,1481.6 975.2,1463.3 977.0,1476.9 978.9,1473.5 980.7,1468.5 982.6,1475.4 984.4,1480.8 986.3,1480.5 988.1,1471.7 990.0,1479.0 991.8,1478.0 993.7,1478.2 995.6,1478.4 997.4,1476.4 999.3,1476.9 1001.1,1474.3 1003.0,1481.6 1004.8,1476.0 1006.7,1479.7 1008.5,1474.4 1010.4,1480.2 1012.2,1477.3 1014.1,1475.0 1016.0,1477.7 1017.8,1474.8 1019.7,1479.0 1021.5,1476.5 1023.4,1479.5 1025.2,1476.6 1027.1,1477.7 1028.9,1475.0 1030.8,1478.4 1032.7,1473.2 1034.5,1475.7 1036.4,1480.9 1038.2,1477.6 1040.1,1479.0 1041.9,1476.7 1043.8,1474.4 1045.6,1478.2 1047.5,1472.4 1049.3,1480.6 1051.2,1476.2 1053.1,1478.1 1054.9,1475.3 1056.8,1477.6 1058.6,1474.9 1060.5,1478.1 1062.3,1477.1 1064.2,1474.8 1066.0,1477.3 1067.9,1472.1 1069.7,1478.2 1071.6,1475.5 1073.5,1471.8 1075.3,1479.0 1077.2,1472.9 1079.0,1478.3 1080.9,1472.3 1082.7,1478.2 1084.6,1480.2 1086.4,1476.1 1088.3,1479.6 1090.1,1474.7 1092.0,1476.2 1093.9,1477.5 1095.7,1474.4 1097.6,1478.1 1099.4,1477.1 1101.3,1476.0 1103.1,1480.0 1105.0,1474.0 1106.8,1481.2 1108.7,1476.9 1110.5,1475.5 1112.4,1477.3 1114.3,1475.3 1116.1,1477.5 1118.0,1474.6 1119.8,1478.2 1121.7,1476.3 1123.5,1478.2 1125.4,1473.9 1127.2,1475.9 1129.1,1477.3 1131.0,1474.1 1132.8,1473.5 1134.7,1478.3 1136.5,1475.9 1138.4,1478.8 1140.2,1473.7 1142.1,1481.1 1143.9,1473.0 1145.8,1481.6 1147.6,1476.4 1149.5,1478.0 1151.4,1476.3 1153.2,1476.6 1155.1,1479.7 1156.9,1474.0 1158.8,1477.6 1160.6,1476.0 1162.5,1481.3 1164.3,1474.4 1166.2,1479.6 1168.0,1471.6 1169.9,1475.9 1171.8,1477.1 1173.6,1473.9 1175.5,1477.6 1177.3,1471.3 1179.2,1476.6 1181.0,1480.5 1182.9,1474.5 1184.7,1481.6 1186.6,1473.4 1188.4,1477.5 1190.3,1480.2 1192.2,1476.3 1194.0,1474.2 1195.9,1480.8 1197.7,1473.0 1199.6,1478.4 1201.4,1476.9 1203.3,1474.5 1205.1,1476.5 1207.0,1479.1 1208.8,1477.1 1210.7,1481.2 1212.6,1476.3 1214.4,1478.2 1216.3,1473.5 1218.1,1478.4 1220.0,1477.1 1221.8,1480.3 1223.7,1478.3 1225.5,1476.8 1227.4,1478.2 1229.3,1476.6 1231.1,1477.8 1233.0,1476.9 1234.8,1479.4 1236.7,1472.2 1238.5,1476.8 1240.4,1479.7 1242.2,1472.8 1244.1,1481.6 1245.9,1473.8 1247.8,1477.3 1249.7,1473.2 1251.5,1475.3 1253.4,1481.6 1255.2,1475.3 1257.1,1480.3 1258.9,1473.4 1260.8,1477.3 1262.6,1475.7 1264.5,1479.6 1266.3,1476.6 1268.2,1481.6 1270.1,1476.0 1271.9,1477.4 1273.8,1478.3 1275.6,1475.8 1277.5,1479.8 1279.3,1474.9 1281.2,1480.7 1283.0,1477.0 1284.9,1479.8 1286.7,1477.2 1288.6,1479.5 1290.5,1474.9 1292.3,1477.6 1294.2,1476.4 1296.0,1477.7 1297.9,1476.6 1299.7,1479.3 1301.6,1475.6 1303.4,1480.1 1305.3,1476.8 1307.1,1477.6 1309.0,1473.9 1310.9,1478.2 1312.7,1472.7 1314.6,1481.6 1316.4,1472.5 1318.3,1477.9 1320.1,1476.3 1322.0,1477.3 1323.8,1477.1 1325.7,1477.6 1327.6,1474.9 1329.4,1474.4 1331.3,1479.5 1333.1,1475.0 1335.0,1478.0 1336.8,1476.9 1338.7,1473.7 1340.5,1477.7 1342.4,1481.6 1344.2,1474.3 1346.1,1479.1 1348.0,1477.9 1349.8,1474.8 1351.7,1477.3 1353.5,1473.8 1355.4,1481.6 1357.2,1476.4 1359.1,1479.1 1360.9,1476.0 1362.8,1478.7 1364.6,1477.3 1366.5,1480.3 1368.4,1477.5 1370.2,1474.9 1372.1,1481.6 1373.9,1476.5 1375.8,1477.4 1377.6,1473.2 1379.5,1477.9 1381.3,1479.6 1383.2,1475.5 1385.0,1481.4 1386.9,1475.8 1388.8,1477.7 1390.6,1476.6 1392.5,1479.0 1394.3,1474.7 1396.2,1479.1 1398.0,1478.5 1399.9,1476.1 1401.7,1480.6 1403.6,1474.5 1405.4,1475.8 1407.3,1480.1 1409.2,1476.7 1411.0,1478.5 1412.9,1475.9 1414.7,1478.2 1416.6,1475.9 1418.4,1479.2 1420.3,1472.4 1422.1,1480.6 1424.0,1472.8 1425.8,1478.3 1427.7,1474.1 1429.6,1478.8 1431.4,1475.9 1433.3,1478.0 1435.1,1476.9 1437.0,1477.8 1438.8,1473.2 1440.7,1481.6 1442.5,1477.3 1444.4,1479.2 1446.3,1474.8 1448.1,1479.1 1450.0,1479.3 1451.8,1475.4 1453.7,1479.8 1455.5,1474.0 1457.4,1478.7 1459.2,1477.3 1461.1,1481.6 1462.9,1476.2 1464.8,1478.8 1466.7,1476.2 1468.5,1477.9 1470.4,1473.1 1472.2,1477.8 1474.1,1476.7 1475.9,1478.7 1477.8,1476.7 1479.6,1476.7 1481.5,1478.7 1483.3,1481.6 1485.2,1472.7 1487.1,1481.6 1488.9,1477.2 1490.8,1480.0 1492.6,1473.1 1494.5,1480.3 1496.3,1475.8 1498.2,1479.2 1500.0,1477.4 1501.9,1478.1 1503.7,1477.4 1505.6,1480.2 1507.5,1474.4 1509.3,1479.8 1511.2,1476.5 1513.0,1476.7 1514.9,1479.3 1516.7,1477.6 1518.6,1478.6 1520.4,1470.9 1522.3,1478.1 1524.1,1477.4 1526.0,1479.5 1527.9,1477.4 1529.7,1481.6 1531.6,1472.9 1533.4,1475.6 1535.3,1480.9 1537.1,1477.5 1539.0,1478.4 1540.8,1477.3 1542.7,1477.6 1544.6,1475.5 1546.4,1480.5 1548.3,1479.6 1550.1,1476.8 1552.0,1479.3 1553.8,1477.2 1555.7,1479.1 1557.5,1476.8 1559.4,1473.4 1561.2,1478.0 1563.1,1476.7 1565.0,1479.6 1566.8,1475.3 1568.7,1480.7 1570.5,1474.7 1572.4,1477.8 1574.2,1477.1 1576.1,1479.1 1577.9,1476.1 1579.8,1478.6 1581.6,1476.7 1583.5,1478.2"/>
<polyline clip-path="url(#c21)" fill="none" stroke="#B12533" stroke-width="3.6" stroke-linejoin="miter" stroke-miterlimit="4" points="1757.6,1295.7 1759.5,1372.5 1761.3,1451.0 1763.2,1465.9 1765.0,1465.1 1766.9,1472.9 1768.7,1469.9 1770.6,1466.7 1772.5,1462.4 1774.3,1471.4 1776.2,1466.1 1778.0,1473.6 1779.9,1464.0 1781.7,1472.8 1783.6,1464.1 1785.5,1468.8 1787.3,1466.8 1789.2,1473.1 1791.0,1472.4 1792.9,1472.0 1794.7,1467.0 1796.6,1472.2 1798.5,1466.8 1800.3,1472.4 1802.2,1472.9 1804.0,1469.4 1805.9,1469.1 1807.7,1467.9 1809.6,1474.6 1811.4,1468.6 1813.3,1467.9 1815.2,1469.4 1817.0,1473.8 1818.9,1474.5 1820.7,1468.9 1822.6,1474.3 1824.4,1470.5 1826.3,1476.1 1828.2,1478.9 1830.0,1477.9 1831.9,1473.1 1833.7,1472.9 1835.6,1472.6 1837.4,1473.4 1839.3,1478.8 1841.2,1474.1 1843.0,1478.1 1844.9,1474.3 1846.7,1477.5 1848.6,1474.3 1850.4,1475.0 1852.3,1476.0 1854.2,1477.4 1856.0,1474.7 1857.9,1475.9 1859.7,1472.9 1861.6,1476.9 1863.4,1473.7 1865.3,1478.4 1867.2,1476.4 1869.0,1476.4 1870.9,1476.5 1872.7,1476.9 1874.6,1476.7 1876.4,1478.3 1878.3,1472.9 1880.2,1478.0 1882.0,1476.8 1883.9,1476.4 1885.7,1479.5 1887.6,1475.5 1889.4,1476.5 1891.3,1478.4 1893.1,1475.9 1895.0,1478.7 1896.9,1478.1 1898.7,1475.7 1900.6,1477.3 1902.4,1474.9 1904.3,1475.8 1906.1,1472.9 1908.0,1477.0 1909.9,1479.4 1911.7,1478.0 1913.6,1480.2 1915.4,1479.4 1917.3,1478.6 1919.1,1480.0 1921.0,1478.8 1922.9,1478.4 1924.7,1479.8 1926.6,1477.8 1928.4,1478.6 1930.3,1479.0 1932.1,1478.3 1934.0,1479.1 1935.9,1479.2 1937.7,1478.8 1939.6,1479.6 1941.4,1479.7 1943.3,1479.3 1945.1,1477.3 1947.0,1477.8 1948.9,1479.8 1950.7,1481.1 1952.6,1478.0 1954.4,1479.0 1956.3,1478.8 1958.1,1479.7 1960.0,1478.4 1961.9,1479.1 1963.7,1480.1 1965.6,1480.5 1967.4,1479.7 1969.3,1479.9 1971.1,1479.1 1973.0,1479.7 1974.9,1479.8 1976.7,1478.0 1978.6,1480.5 1980.4,1479.1 1982.3,1479.5 1984.1,1478.5 1986.0,1479.2 1987.8,1479.9 1989.7,1478.0 1991.6,1479.9 1993.4,1479.7 1995.3,1478.3 1997.1,1479.7 1999.0,1478.4 2000.8,1479.2 2002.7,1479.0 2004.6,1479.1 2006.4,1480.0 2008.3,1480.7 2010.1,1478.1 2012.0,1480.7 2013.8,1478.2 2015.7,1478.4 2017.6,1478.9 2019.4,1479.8 2021.3,1478.6 2023.1,1478.2 2025.0,1480.0 2026.8,1480.1 2028.7,1478.4 2030.6,1478.5 2032.4,1479.7 2034.3,1480.3 2036.1,1479.1 2038.0,1480.6 2039.8,1478.9 2041.7,1479.0 2043.6,1480.3 2045.4,1479.3 2047.3,1480.0 2049.1,1480.1 2051.0,1477.9 2052.8,1480.5 2054.7,1477.7 2056.6,1479.4 2058.4,1479.4 2060.3,1479.2 2062.1,1480.6 2064.0,1479.4 2065.8,1480.5 2067.7,1477.1 2069.5,1479.0 2071.4,1479.8 2073.3,1478.7 2075.1,1480.6 2077.0,1479.8 2078.8,1479.5 2080.7,1478.4 2082.5,1477.8 2084.4,1478.9 2086.3,1480.2 2088.1,1478.3 2090.0,1480.4 2091.8,1480.0 2093.7,1481.6 2095.5,1477.4 2097.4,1480.3 2099.3,1479.7 2101.1,1479.6 2103.0,1481.3 2104.8,1479.7 2106.7,1479.8 2108.5,1479.1 2110.4,1480.3 2112.3,1478.4 2114.1,1478.8 2116.0,1479.9 2117.8,1479.8 2119.7,1478.8 2121.5,1481.0 2123.4,1479.9 2125.3,1478.3 2127.1,1480.3 2129.0,1479.7 2130.8,1480.4 2132.7,1479.7 2134.5,1480.2 2136.4,1480.0 2138.3,1479.2 2140.1,1481.6 2142.0,1479.3 2143.8,1480.0 2145.7,1479.4 2147.5,1481.3 2149.4,1478.2 2151.2,1479.5 2153.1,1478.9 2155.0,1479.8 2156.8,1479.3 2158.7,1480.7 2160.5,1477.9 2162.4,1478.1 2164.2,1479.7 2166.1,1479.6 2168.0,1479.8 2169.8,1479.9 2171.7,1479.8 2173.5,1481.3 2175.4,1479.6 2177.2,1477.8 2179.1,1479.6 2181.0,1480.2 2182.8,1479.7 2184.7,1480.1 2186.5,1478.9 2188.4,1481.0 2190.2,1479.8 2192.1,1478.6 2194.0,1478.8 2195.8,1480.7 2197.7,1479.1 2199.5,1480.4 2201.4,1481.0 2203.2,1480.2 2205.1,1478.1 2207.0,1478.8 2208.8,1480.8 2210.7,1480.9 2212.5,1478.7 2214.4,1480.2 2216.2,1479.8 2218.1,1481.1 2220.0,1481.1 2221.8,1479.3 2223.7,1480.1 2225.5,1480.1 2227.4,1479.8 2229.2,1479.0 2231.1,1478.8 2233.0,1480.5 2234.8,1480.6 2236.7,1480.1 2238.5,1479.4 2240.4,1481.6 2242.2,1479.4 2244.1,1479.9 2245.9,1479.2 2247.8,1479.1 2249.7,1480.6 2251.5,1480.0 2253.4,1479.8 2255.2,1478.5 2257.1,1479.9 2258.9,1479.6 2260.8,1480.3 2262.7,1480.4 2264.5,1479.3 2266.4,1480.5 2268.2,1479.5 2270.1,1479.6 2271.9,1480.0 2273.8,1479.9 2275.7,1480.4 2277.5,1480.4 2279.4,1480.5 2281.2,1480.9 2283.1,1478.8 2284.9,1481.6 2286.8,1481.2 2288.7,1479.7 2290.5,1479.5 2292.4,1480.6 2294.2,1480.8 2296.1,1480.9 2297.9,1480.5 2299.8,1479.2 2301.7,1479.5 2303.5,1481.0 2305.4,1479.6 2307.2,1480.5 2309.1,1480.1 2310.9,1480.9 2312.8,1480.0 2314.7,1479.5 2316.5,1479.6 2318.4,1480.4 2320.2,1479.3 2322.1,1480.6 2323.9,1479.3 2325.8,1480.7 2327.6,1480.2 2329.5,1479.8 2331.4,1478.5 2333.2,1479.9 2335.1,1481.6 2336.9,1481.1 2338.8,1478.4 2340.6,1479.9 2342.5,1480.1 2344.4,1480.9 2346.2,1481.1 2348.1,1481.2 2349.9,1479.8 2351.8,1481.4 2353.6,1479.8 2355.5,1480.2 2357.4,1478.9 2359.2,1480.3 2361.1,1480.3 2362.9,1480.4 2364.8,1481.2 2366.6,1479.9 2368.5,1479.5 2370.4,1480.8 2372.2,1479.4 2374.1,1481.1 2375.9,1480.1 2377.8,1481.1 2379.6,1479.8 2381.5,1479.5 2383.4,1480.8 2385.2,1480.1 2387.1,1480.4 2388.9,1480.5 2390.8,1480.1 2392.6,1480.4 2394.5,1481.3 2396.4,1481.6 2398.2,1480.6 2400.1,1479.8 2401.9,1480.3 2403.8,1480.1 2405.6,1479.7 2407.5,1480.6 2409.4,1479.6 2411.2,1479.0 2413.1,1480.5 2414.9,1479.9 2416.8,1480.9 2418.6,1481.0 2420.5,1480.2 2422.3,1480.5 2424.2,1480.1 2426.1,1480.5 2427.9,1480.9 2429.8,1481.6 2431.6,1480.9 2433.5,1480.3 2435.3,1481.6 2437.2,1480.4 2439.1,1481.3 2440.9,1480.8 2442.8,1479.5 2444.6,1481.1 2446.5,1479.5 2448.3,1480.5 2450.2,1480.8 2452.1,1481.0 2453.9,1480.3 2455.8,1479.1 2457.6,1480.7 2459.5,1478.6 2461.3,1481.1 2463.2,1480.2 2465.1,1481.0 2466.9,1480.4 2468.8,1480.2 2470.6,1480.5 2472.5,1480.8 2474.3,1479.7 2476.2,1480.6 2478.1,1479.7 2479.9,1479.8 2481.8,1480.6 2483.6,1479.5 2485.5,1481.2 2487.3,1480.8 2489.2,1480.2 2491.1,1480.6 2492.9,1480.5 2494.8,1481.5 2496.6,1480.0 2498.5,1480.4 2500.3,1481.4 2502.2,1479.7 2504.0,1480.6 2505.9,1480.6 2507.8,1479.9 2509.6,1479.9 2511.5,1480.7 2513.3,1481.5 2515.2,1480.2 2517.0,1481.0 2518.9,1480.3 2520.8,1479.9 2522.6,1481.0 2524.5,1479.8 2526.3,1481.1 2528.2,1480.0 2530.0,1480.8 2531.9,1479.5 2533.8,1481.5 2535.6,1480.6 2537.5,1481.3 2539.3,1479.1 2541.2,1480.6 2543.0,1480.0 2544.9,1480.9 2546.8,1479.3 2548.6,1481.3 2550.5,1480.8 2552.3,1480.3 2554.2,1480.4 2556.0,1480.3 2557.9,1480.9 2559.8,1480.9 2561.6,1479.9 2563.5,1481.1 2565.3,1481.3 2567.2,1480.5 2569.0,1480.4 2570.9,1480.1 2572.8,1481.2 2574.6,1480.6 2576.5,1479.7 2578.3,1480.5 2580.2,1480.3 2582.0,1480.8 2583.9,1480.7 2585.8,1480.3 2587.6,1480.2 2589.5,1481.2 2591.3,1480.0 2593.2,1481.0 2595.0,1480.2 2596.9,1480.8 2598.7,1479.9 2600.6,1479.9 2602.5,1480.6 2604.3,1481.1 2606.2,1479.2 2608.0,1480.7 2609.9,1479.8 2611.7,1479.9 2613.6,1479.9 2615.5,1480.2 2617.3,1479.6 2619.2,1481.2 2621.0,1480.1 2622.9,1480.1 2624.7,1480.0 2626.6,1481.1 2628.5,1480.4 2630.3,1480.3 2632.2,1481.5 2634.0,1480.7 2635.9,1481.4 2637.7,1481.1 2639.6,1480.8 2641.5,1479.6 2643.3,1481.0 2645.2,1480.8 2647.0,1480.5 2648.9,1479.7 2650.7,1479.4 2652.6,1480.9 2654.5,1479.3 2656.3,1481.5 2658.2,1479.9 2660.0,1480.3 2661.9,1479.5 2663.7,1479.6 2665.6,1481.0 2667.5,1480.7 2669.3,1480.1 2671.2,1480.8 2673.0,1480.0 2674.9,1481.0 2676.7,1480.5 2678.6,1480.6 2680.4,1480.2 2682.3,1480.7 2684.2,1479.9"/>
<rect x="640.45" y="27.30" width="980.15" height="445.30" fill="none" stroke="#000" stroke-width="2.80"/>
<line x1="640.45" x2="658.05" y1="463.40" y2="463.40" stroke="#000" stroke-width="2.8"/>
<line x1="640.45" x2="658.05" y1="376.10" y2="376.10" stroke="#000" stroke-width="2.8"/>
<line x1="640.45" x2="658.05" y1="288.80" y2="288.80" stroke="#000" stroke-width="2.8"/>
<line x1="640.45" x2="658.05" y1="201.50" y2="201.50" stroke="#000" stroke-width="2.8"/>
<line x1="640.45" x2="658.05" y1="114.20" y2="114.20" stroke="#000" stroke-width="2.8"/>
<text x="619" y="482.10" font-size="55.7" text-anchor="end">0</text>
<text x="619" y="394.80" font-size="55.7" text-anchor="end">0.001</text>
<text x="619" y="307.50" font-size="55.7" text-anchor="end">0.002</text>
<text x="619" y="220.20" font-size="55.7" text-anchor="end">0.003</text>
<text x="619" y="132.90" font-size="55.7" text-anchor="end">0.004</text>
<text x="619" y="45.60" font-size="55.7" text-anchor="end">0.005</text>
<rect x="1740.60" y="27.30" width="980.00" height="445.30" fill="none" stroke="#000" stroke-width="2.80"/>
<line x1="1740.60" x2="1758.20" y1="463.40" y2="463.40" stroke="#000" stroke-width="2.8"/>
<line x1="1740.60" x2="1758.20" y1="376.10" y2="376.10" stroke="#000" stroke-width="2.8"/>
<line x1="1740.60" x2="1758.20" y1="288.80" y2="288.80" stroke="#000" stroke-width="2.8"/>
<line x1="1740.60" x2="1758.20" y1="201.50" y2="201.50" stroke="#000" stroke-width="2.8"/>
<line x1="1740.60" x2="1758.20" y1="114.20" y2="114.20" stroke="#000" stroke-width="2.8"/>
<rect x="640.45" y="536.10" width="980.15" height="445.40" fill="none" stroke="#000" stroke-width="2.80"/>
<line x1="640.45" x2="658.05" y1="972.50" y2="972.50" stroke="#000" stroke-width="2.8"/>
<line x1="640.45" x2="658.05" y1="885.20" y2="885.20" stroke="#000" stroke-width="2.8"/>
<line x1="640.45" x2="658.05" y1="797.90" y2="797.90" stroke="#000" stroke-width="2.8"/>
<line x1="640.45" x2="658.05" y1="710.60" y2="710.60" stroke="#000" stroke-width="2.8"/>
<line x1="640.45" x2="658.05" y1="623.30" y2="623.30" stroke="#000" stroke-width="2.8"/>
<text x="619" y="991.20" font-size="55.7" text-anchor="end">0</text>
<text x="619" y="903.90" font-size="55.7" text-anchor="end">0.001</text>
<text x="619" y="816.60" font-size="55.7" text-anchor="end">0.002</text>
<text x="619" y="729.30" font-size="55.7" text-anchor="end">0.003</text>
<text x="619" y="642.00" font-size="55.7" text-anchor="end">0.004</text>
<text x="619" y="554.70" font-size="55.7" text-anchor="end">0.005</text>
<rect x="1740.60" y="536.10" width="980.00" height="445.40" fill="none" stroke="#000" stroke-width="2.80"/>
<line x1="1740.60" x2="1758.20" y1="972.50" y2="972.50" stroke="#000" stroke-width="2.8"/>
<line x1="1740.60" x2="1758.20" y1="885.20" y2="885.20" stroke="#000" stroke-width="2.8"/>
<line x1="1740.60" x2="1758.20" y1="797.90" y2="797.90" stroke="#000" stroke-width="2.8"/>
<line x1="1740.60" x2="1758.20" y1="710.60" y2="710.60" stroke="#000" stroke-width="2.8"/>
<line x1="1740.60" x2="1758.20" y1="623.30" y2="623.30" stroke="#000" stroke-width="2.8"/>
<rect x="640.45" y="1044.60" width="980.15" height="444.90" fill="none" stroke="#000" stroke-width="2.80"/>
<line x1="640.45" x2="658.05" y1="1481.60" y2="1481.60" stroke="#000" stroke-width="2.8"/>
<line x1="640.45" x2="658.05" y1="1394.30" y2="1394.30" stroke="#000" stroke-width="2.8"/>
<line x1="640.45" x2="658.05" y1="1307.00" y2="1307.00" stroke="#000" stroke-width="2.8"/>
<line x1="640.45" x2="658.05" y1="1219.70" y2="1219.70" stroke="#000" stroke-width="2.8"/>
<line x1="640.45" x2="658.05" y1="1132.40" y2="1132.40" stroke="#000" stroke-width="2.8"/>
<text x="619" y="1500.30" font-size="55.7" text-anchor="end">0</text>
<text x="619" y="1413.00" font-size="55.7" text-anchor="end">0.001</text>
<text x="619" y="1325.70" font-size="55.7" text-anchor="end">0.002</text>
<text x="619" y="1238.40" font-size="55.7" text-anchor="end">0.003</text>
<text x="619" y="1151.10" font-size="55.7" text-anchor="end">0.004</text>
<text x="619" y="1063.80" font-size="55.7" text-anchor="end">0.005</text>
<line x1="658.00" x2="658.00" y1="1489.50" y2="1475.20" stroke="#000" stroke-width="2.8"/>
<text x="658.00" y="1558.2" font-size="55.7" text-anchor="middle">0</text>
<line x1="843.10" x2="843.10" y1="1489.50" y2="1475.20" stroke="#000" stroke-width="2.8"/>
<text x="842.60" y="1558.2" font-size="55.7" text-anchor="middle">5.0×10<tspan font-size="32" dy="-18.3">5</tspan></text>
<line x1="1028.20" x2="1028.20" y1="1489.50" y2="1475.20" stroke="#000" stroke-width="2.8"/>
<text x="1027.70" y="1558.2" font-size="55.7" text-anchor="middle">1.0×10<tspan font-size="32" dy="-18.3">6</tspan></text>
<line x1="1213.30" x2="1213.30" y1="1489.50" y2="1475.20" stroke="#000" stroke-width="2.8"/>
<text x="1212.80" y="1558.2" font-size="55.7" text-anchor="middle">1.5×10<tspan font-size="32" dy="-18.3">6</tspan></text>
<line x1="1398.40" x2="1398.40" y1="1489.50" y2="1475.20" stroke="#000" stroke-width="2.8"/>
<text x="1397.90" y="1558.2" font-size="55.7" text-anchor="middle">2.0×10<tspan font-size="32" dy="-18.3">6</tspan></text>
<line x1="1583.50" x2="1583.50" y1="1489.50" y2="1475.20" stroke="#000" stroke-width="2.8"/>
<text x="1583.00" y="1558.2" font-size="55.7" text-anchor="middle">2.5×10<tspan font-size="32" dy="-18.3">6</tspan></text>
<rect x="1740.60" y="1044.60" width="980.00" height="444.90" fill="none" stroke="#000" stroke-width="2.80"/>
<line x1="1740.60" x2="1758.20" y1="1481.60" y2="1481.60" stroke="#000" stroke-width="2.8"/>
<line x1="1740.60" x2="1758.20" y1="1394.30" y2="1394.30" stroke="#000" stroke-width="2.8"/>
<line x1="1740.60" x2="1758.20" y1="1307.00" y2="1307.00" stroke="#000" stroke-width="2.8"/>
<line x1="1740.60" x2="1758.20" y1="1219.70" y2="1219.70" stroke="#000" stroke-width="2.8"/>
<line x1="1740.60" x2="1758.20" y1="1132.40" y2="1132.40" stroke="#000" stroke-width="2.8"/>
<line x1="1757.60" x2="1757.60" y1="1489.50" y2="1475.20" stroke="#000" stroke-width="2.8"/>
<text x="1757.60" y="1558.2" font-size="55.7" text-anchor="middle">0</text>
<line x1="2054.10" x2="2054.10" y1="1489.50" y2="1475.20" stroke="#000" stroke-width="2.8"/>
<text x="2053.60" y="1558.2" font-size="55.7" text-anchor="middle">8.0×10<tspan font-size="32" dy="-18.3">5</tspan></text>
<line x1="2350.60" x2="2350.60" y1="1489.50" y2="1475.20" stroke="#000" stroke-width="2.8"/>
<text x="2350.10" y="1558.2" font-size="55.7" text-anchor="middle">1.6×10<tspan font-size="32" dy="-18.3">6</tspan></text>
<line x1="2647.10" x2="2647.10" y1="1489.50" y2="1475.20" stroke="#000" stroke-width="2.8"/>
<text x="2646.60" y="1558.2" font-size="55.7" text-anchor="middle">2.4×10<tspan font-size="32" dy="-18.3">6</tspan></text>
<line x1="720.7" x2="832.9" y1="74.4" y2="74.4" stroke="#6A8CB6" stroke-width="2.9"/>
<text x="840.6" y="90.3" font-size="55.7">Original Noise SNR=16.283 7 dB</text>
<line x1="1824.3" x2="1935.7" y1="72.4" y2="72.4" stroke="#2E4D8F" stroke-width="2.9"/>
<text x="1942.3" y="87.9" font-size="55.7">MAF-Filtered SNR=18.802 9 dB</text>
<line x1="711.8" x2="823.9" y1="589.4" y2="589.4" stroke="#EBA475" stroke-width="2.9"/>
<text x="835.6" y="606.1" font-size="55.7" letter-spacing="-0.17">WT-Filtered SNR=21.015 4 dB</text>
<line x1="1802.9" x2="1914.3" y1="594.4" y2="594.4" stroke="#E5773F" stroke-width="2.9"/>
<text x="1920.9" y="610.7" font-size="55.7">KF-Filtered SNR=24.306 6 dB</text>
<line x1="711.8" x2="823.9" y1="1098.4" y2="1098.4" stroke="#DE6B78" stroke-width="2.9"/>
<text x="830.2" y="1115.8" font-size="55.7">SG-Filtered SNR=32.326 4 dB</text>
<line x1="1776.0" x2="1887.8" y1="1110.4" y2="1110.4" stroke="#A5242F" stroke-width="2.9"/>
<text x="1897.0" y="1127.1" font-size="55.7">PCA-SG-Filtered SNR=39.972 4 dB</text>
<text x="1676.7" y="1629" font-size="55.7" text-anchor="middle">Frequency/Hz</text>
<text transform="translate(462.5,758.7) rotate(-90)" x="0" y="0" font-size="55.7" text-anchor="middle">Amplitude</text>
</svg></body></html>
